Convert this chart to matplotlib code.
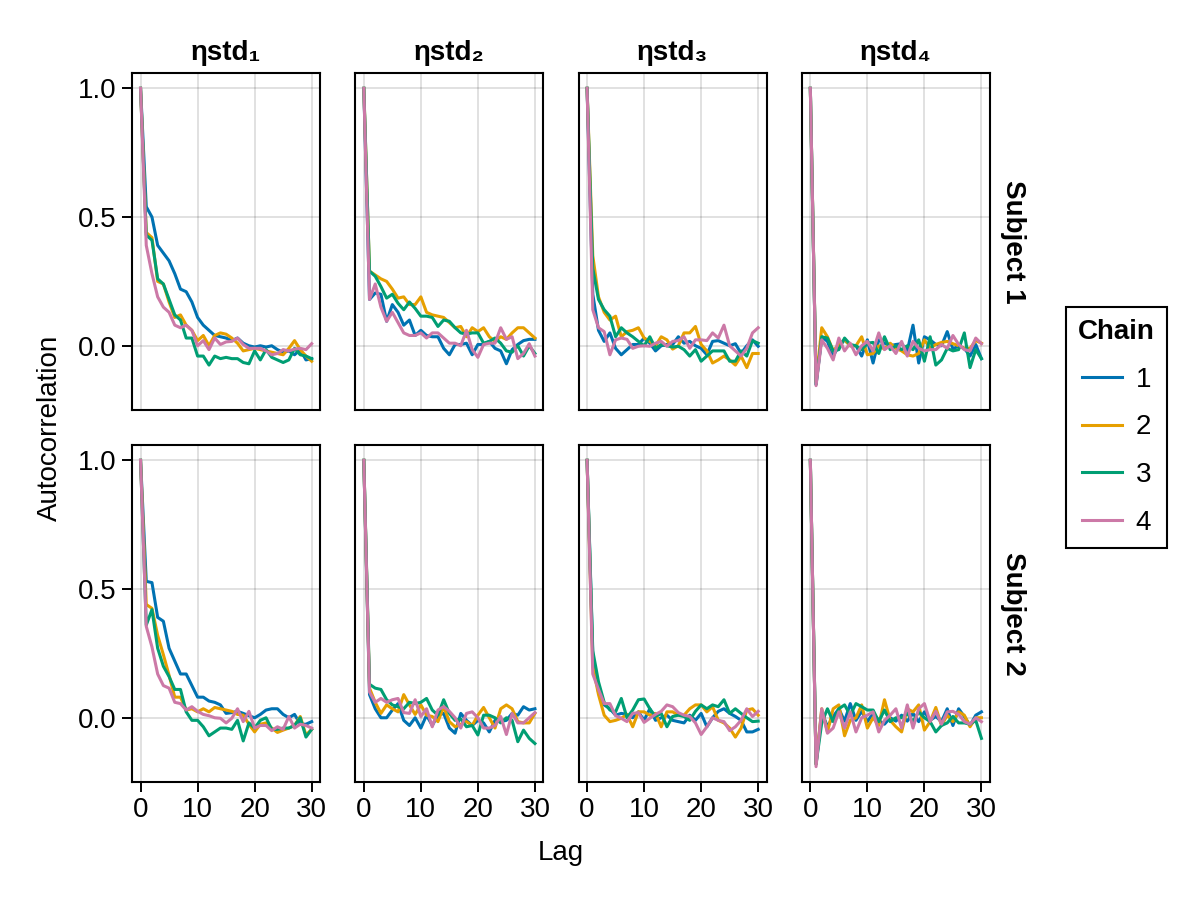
import matplotlib
matplotlib.use("Agg")
import matplotlib.pyplot as plt
from matplotlib.ticker import MultipleLocator

plt.rcParams['font.family'] = ['Liberation Sans', 'DejaVu Sans']
plt.rcParams['font.size'] = 20

lags = list(range(31))
chains = ["1", "2", "3", "4"]
colors = ["#0072B2", "#E69F00", "#009E73", "#CC79A7"]
param_titles = ["ηstd₁", "ηstd₂", "ηstd₃", "ηstd₄"]
subjects = ["Subject 1", "Subject 2"]

# autocorrelation per chain
s1_std1 = [
    [1.0, 0.54, 0.50, 0.39, 0.36, 0.33, 0.28, 0.22, 0.21, 0.17, 0.11, 0.08, 0.06, 0.04, 0.035, 0.03, 0.02, 0.03, 0.01, 0.0, -0.005, 0.0, -0.005, 0.0, -0.015, -0.025, -0.02, -0.035, -0.015, -0.055, -0.05],
    [1.0, 0.44, 0.42, 0.25, 0.24, 0.17, 0.11, 0.12, 0.08, 0.06, 0.02, 0.04, 0.0, 0.04, 0.05, 0.045, 0.03, 0.01, -0.02, -0.015, -0.01, -0.015, -0.02, -0.025, -0.03, -0.035, -0.01, 0.02, -0.015, -0.04, -0.06],
    [1.0, 0.43, 0.41, 0.26, 0.24, 0.18, 0.12, 0.10, 0.03, 0.03, -0.04, -0.04, -0.075, -0.04, -0.05, -0.045, -0.05, -0.05, -0.065, -0.07, -0.02, -0.055, -0.015, -0.045, -0.055, -0.065, -0.055, -0.01, -0.035, -0.04, -0.05],
    [1.0, 0.39, 0.28, 0.19, 0.15, 0.13, 0.08, 0.07, 0.08, 0.06, 0.0, 0.02, -0.015, 0.03, 0.005, 0.015, 0.017, 0.03, 0.005, -0.01, -0.01, -0.01, -0.02, -0.035, -0.03, -0.015, -0.02, -0.013, -0.01, -0.015, 0.008],
]
s1_std2 = [
    [1.0, 0.18, 0.205, 0.20, 0.095, 0.16, 0.13, 0.08, 0.10, 0.04, 0.06, 0.04, 0.035, 0.035, -0.01, -0.035, 0.005, 0.005, 0.01, -0.035, 0.005, 0.005, 0.017, -0.01, -0.02, -0.07, -0.015, 0.005, 0.02, 0.025, 0.025],
    [1.0, 0.29, 0.275, 0.26, 0.25, 0.22, 0.185, 0.19, 0.16, 0.16, 0.19, 0.13, 0.12, 0.115, 0.11, 0.09, 0.07, 0.075, 0.035, 0.07, 0.055, 0.07, 0.035, 0.017, 0.035, 0.025, 0.05, 0.07, 0.07, 0.05, 0.03],
    [1.0, 0.29, 0.27, 0.23, 0.185, 0.20, 0.165, 0.14, 0.17, 0.145, 0.115, 0.115, 0.11, 0.075, 0.10, 0.095, 0.07, 0.05, 0.045, 0.05, 0.05, 0.01, 0.017, 0.03, 0.01, -0.02, -0.025, 0.0, -0.04, 0.0, -0.03],
    [1.0, 0.18, 0.24, 0.15, 0.095, 0.13, 0.09, 0.05, 0.04, 0.04, 0.05, 0.03, 0.05, 0.05, 0.03, 0.01, 0.01, 0.0, 0.06, -0.015, -0.045, 0.005, 0.01, 0.01, 0.07, 0.025, 0.035, -0.05, -0.03, 0.008, -0.04],
]
s1_std3 = [
    [1.0, 0.20, 0.06, 0.017, 0.05, -0.01, -0.035, -0.015, 0.005, 0.005, 0.03, 0.01, -0.02, 0.0, 0.005, 0.005, 0.035, 0.01, 0.017, 0.0, -0.01, -0.035, 0.017, 0.02, 0.01, 0.0, 0.008, -0.03, 0.0, 0.023, -0.002],
    [1.0, 0.35, 0.19, 0.13, 0.10, 0.115, 0.035, 0.055, 0.06, 0.07, 0.03, 0.017, 0.0, 0.035, 0.023, -0.013, 0.0, 0.05, 0.05, 0.075, 0.005, -0.02, -0.067, -0.055, -0.04, -0.055, -0.075, -0.04, -0.085, -0.03, -0.03],
    [1.0, 0.30, 0.18, 0.14, 0.115, 0.035, 0.07, 0.05, 0.035, 0.017, 0.0, 0.035, -0.01, 0.005, 0.0, -0.005, -0.002, -0.015, -0.04, -0.015, -0.06, -0.04, -0.02, -0.02, -0.02, -0.06, -0.06, -0.02, -0.04, 0.02, 0.01],
    [1.0, 0.14, 0.07, 0.055, -0.035, 0.023, 0.03, 0.025, -0.01, -0.002, 0.0, -0.002, 0.01, 0.017, -0.002, 0.017, 0.02, 0.035, -0.01, 0.023, 0.023, 0.02, 0.05, 0.03, 0.08, 0.0, -0.02, -0.04, -0.01, 0.05, 0.07],
]
s1_std4 = [
    [1.0, -0.15, 0.035, 0.017, -0.04, 0.0, 0.023, 0.0, 0.0, -0.04, 0.023, -0.067, 0.023, 0.01, 0.0, 0.005, 0.008, -0.02, 0.08, -0.067, 0.035, 0.023, 0.005, 0.0, 0.055, -0.013, 0.0, -0.01, -0.04, 0.005, -0.05],
    [1.0, -0.14, 0.07, 0.035, -0.02, 0.005, 0.023, 0.0, 0.0, 0.035, -0.035, -0.03, 0.0, -0.013, 0.01, -0.01, -0.02, -0.035, -0.04, -0.03, 0.023, -0.01, 0.005, 0.013, 0.017, 0.008, 0.0, -0.01, -0.01, 0.02, 0.01],
    [1.0, -0.15, 0.035, 0.03, -0.02, -0.015, 0.03, 0.005, 0.0, -0.015, 0.01, 0.013, -0.03, 0.035, -0.015, 0.0, -0.015, 0.0, -0.015, 0.023, -0.06, 0.035, -0.075, -0.055, -0.01, -0.02, -0.015, 0.05, -0.085, -0.015, -0.05],
    [1.0, -0.155, 0.023, -0.01, -0.055, 0.03, -0.02, 0.01, -0.035, 0.0, 0.017, -0.02, 0.05, -0.015, 0.0, -0.03, 0.017, -0.04, 0.017, -0.01, -0.02, -0.015, -0.015, 0.005, -0.01, 0.04, 0.005, -0.015, -0.02, 0.03, 0.008],
]
s2_std1 = [
    [1.0, 0.53, 0.525, 0.39, 0.375, 0.27, 0.22, 0.17, 0.17, 0.125, 0.08, 0.08, 0.065, 0.06, 0.05, 0.017, 0.02, 0.025, 0.017, 0.008, 0.0, 0.013, 0.03, 0.035, 0.035, 0.013, 0.0, 0.013, -0.025, -0.025, -0.015],
    [1.0, 0.44, 0.425, 0.32, 0.245, 0.165, 0.08, 0.08, 0.03, 0.035, 0.023, 0.035, 0.023, 0.04, 0.035, 0.03, 0.025, 0.013, 0.01, -0.025, -0.055, -0.025, -0.02, -0.04, -0.057, -0.048, -0.04, -0.03, 0.005, -0.067, -0.045],
    [1.0, 0.36, 0.42, 0.27, 0.20, 0.16, 0.11, 0.11, 0.023, -0.01, -0.01, -0.035, -0.07, -0.055, -0.04, -0.04, -0.045, -0.01, -0.09, -0.02, -0.04, -0.01, 0.0, -0.045, -0.045, -0.04, -0.04, -0.03, 0.0, -0.075, -0.045],
    [1.0, 0.355, 0.275, 0.17, 0.125, 0.115, 0.06, 0.055, 0.03, 0.043, 0.025, 0.013, 0.008, 0.0, -0.002, -0.02, -0.002, 0.035, -0.015, 0.025, -0.04, -0.03, -0.03, -0.05, -0.035, -0.045, 0.005, -0.04, -0.025, -0.03, -0.04],
]
s2_std2 = [
    [1.0, 0.09, 0.035, 0.0, 0.0, 0.03, 0.055, -0.01, -0.03, 0.0, -0.04, 0.01, -0.03, 0.01, 0.017, -0.04, -0.06, 0.017, -0.01, -0.03, -0.01, -0.02, -0.055, -0.01, -0.015, -0.01, 0.017, 0.01, 0.043, 0.03, 0.035],
    [1.0, 0.115, 0.06, 0.017, 0.05, 0.035, 0.023, 0.09, 0.05, 0.013, 0.05, 0.01, 0.005, -0.015, 0.043, -0.015, -0.035, -0.025, -0.015, -0.03, 0.01, 0.04, 0.0, -0.04, 0.035, 0.05, 0.035, -0.015, -0.02, -0.02, 0.017],
    [1.0, 0.13, 0.115, 0.11, 0.07, 0.05, 0.043, 0.035, 0.06, 0.055, 0.06, 0.075, 0.03, 0.01, 0.07, 0.017, -0.01, -0.005, -0.035, -0.03, -0.067, 0.01, 0.01, 0.0, -0.02, 0.0, -0.01, -0.093, -0.048, -0.08, -0.1],
    [1.0, 0.10, 0.06, 0.075, 0.06, 0.07, 0.075, 0.02, 0.017, 0.07, 0.005, 0.035, -0.035, 0.03, 0.043, 0.025, 0.0, -0.04, 0.017, 0.023, 0.0, -0.04, -0.04, -0.03, 0.005, -0.065, 0.017, -0.02, -0.02, 0.0, 0.02],
]
s2_std3 = [
    [1.0, 0.24, 0.10, 0.05, 0.035, 0.01, 0.017, 0.013, 0.0, 0.023, -0.01, 0.035, -0.01, 0.0, 0.01, -0.01, -0.015, -0.02, 0.01, -0.01, 0.017, -0.035, 0.0, 0.025, 0.035, 0.017, 0.005, -0.01, -0.055, -0.055, -0.045],
    [1.0, 0.20, 0.09, 0.01, -0.015, -0.01, -0.002, 0.013, -0.035, 0.023, 0.023, 0.01, 0.017, -0.035, 0.023, 0.023, 0.01, 0.01, 0.035, 0.05, 0.05, 0.023, 0.043, -0.01, -0.02, -0.04, -0.075, -0.04, 0.03, 0.035, 0.01],
    [1.0, 0.26, 0.14, 0.06, 0.03, 0.023, 0.075, 0.0, 0.03, 0.07, 0.073, 0.035, 0.005, 0.017, -0.035, 0.005, 0.01, 0.005, -0.01, 0.025, 0.05, 0.035, 0.05, 0.043, 0.07, 0.017, 0.035, 0.017, 0.0, -0.015, -0.013],
    [1.0, 0.17, 0.11, 0.055, 0.055, 0.008, -0.002, -0.015, 0.017, 0.02, -0.018, -0.002, 0.013, 0.025, 0.05, 0.043, 0.02, 0.01, 0.005, -0.02, -0.065, -0.035, 0.0, -0.01, -0.015, -0.05, -0.035, -0.01, 0.035, 0.005, 0.025],
]
s2_std4 = [
    [1.0, -0.18, 0.023, -0.035, 0.005, 0.035, -0.013, 0.055, -0.01, 0.025, -0.015, 0.017, -0.01, -0.025, 0.0, -0.013, 0.01, -0.013, 0.017, -0.015, 0.023, -0.01, 0.005, -0.015, 0.035, -0.03, 0.035, 0.005, -0.03, 0.01, 0.023],
    [1.0, -0.18, 0.035, -0.055, 0.035, 0.05, -0.07, -0.01, 0.0, 0.05, -0.04, 0.0, -0.03, 0.07, -0.01, -0.035, -0.055, 0.035, 0.023, 0.05, -0.048, -0.015, 0.04, -0.03, 0.01, -0.015, 0.023, 0.01, -0.035, 0.0, 0.0],
    [1.0, -0.18, -0.02, 0.035, -0.015, 0.035, 0.05, 0.01, 0.055, 0.043, 0.03, 0.03, -0.015, 0.03, -0.015, 0.0, 0.0, 0.017, -0.015, 0.023, 0.0, -0.015, -0.055, -0.03, -0.02, 0.005, -0.02, -0.02, -0.025, -0.01, -0.08],
    [1.0, -0.19, 0.035, -0.06, -0.04, 0.023, -0.04, 0.023, -0.055, 0.0, 0.01, 0.023, -0.055, -0.01, 0.01, 0.035, -0.04, 0.05, -0.04, 0.035, 0.055, -0.015, 0.025, -0.025, 0.023, 0.025, 0.013, -0.015, -0.025, 0.0, -0.015],
]

panels = [
    [s1_std1, s1_std2, s1_std3, s1_std4],
    [s2_std1, s2_std2, s2_std3, s2_std4],
]

fig, axes = plt.subplots(2, 4, figsize=(12, 9), dpi=100, sharex=True, sharey=True)
fig.subplots_adjust(left=132/1200, right=990/1200, bottom=1-782/900, top=1-73/900,
                    wspace=35/188, hspace=35/337)

for r in range(2):
    for c in range(4):
        ax = axes[r, c]
        for k, series in enumerate(panels[r][c]):
            ax.plot(lags, series, color=colors[k], lw=2.2, label=chains[k])
        ax.set_axisbelow(True)
        ax.grid(True, color="black", alpha=0.12, lw=1.4)
        for sp in ax.spines.values():
            sp.set_linewidth(1.5)
        ax.tick_params(direction="out", length=7, width=1.4, pad=4, labelsize=20,
                       left=(c == 0), labelleft=(c == 0),
                       bottom=(r == 1), labelbottom=(r == 1))
        if r == 0:
            ax.set_title(param_titles[c], fontweight="bold", fontsize=20, pad=9)

axes[0, 0].xaxis.set_major_locator(MultipleLocator(10))
axes[0, 0].yaxis.set_major_locator(MultipleLocator(0.5))
axes[0, 0].set_xlim(-1.5, 31.5)

for r, name in enumerate(subjects):
    y = 1 - (241.5 if r == 0 else 613.5) / 900
    fig.text(1013/1200, y, name, rotation=270, ha="center", va="center",
             fontweight="bold", fontsize=20)

fig.text(561/1200, 1-853/900, "Lag", ha="center", va="center", fontsize=20)
fig.text(50/1200, 1-427.5/900, "Autocorrelation", rotation=90,
         ha="center", va="center", fontsize=20)

handles, labels = axes[0, 0].get_legend_handles_labels()
leg = fig.legend(handles, labels, title="Chain", loc="center",
                 bbox_to_anchor=(1116.5/1200, 1-427.5/900), frameon=True,
                 fancybox=False, edgecolor="black", framealpha=1,
                 handlelength=1.45, labelspacing=0.78, borderpad=0.45,
                 handletextpad=0.5, fontsize=20, title_fontsize=20)
leg.get_frame().set_linewidth(1.5)
leg.get_title().set_fontweight("bold")

fig.savefig("out.png", dpi=100)
